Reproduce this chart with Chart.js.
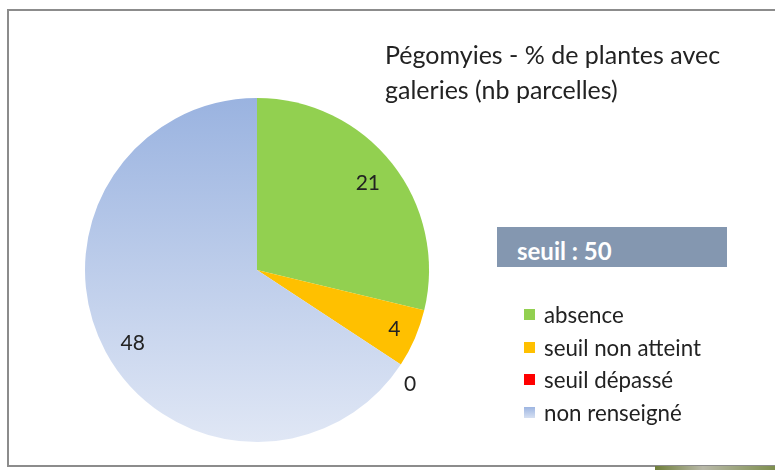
<!DOCTYPE html>
<html>
<head>
<meta charset="utf-8">
<script src="https://cdn.jsdelivr.net/npm/chart.js@4/dist/chart.umd.min.js"></script>
<style>
  html, body { margin: 0; padding: 0; background: #fff; }
  body { width: 775px; height: 470px; position: relative; overflow: hidden; font-family: Lato, "Open Sans", sans-serif; }
  #frame { position: absolute; left: 7px; top: 9px; width: 800px; height: 454px; border: 2px solid #8c8c8c; border-right: none; box-sizing: content-box; }
  #c { position: absolute; left: 0; top: 0; }
  #title { position: absolute; left: 385px; top: 37px; font-size: 25px; line-height: 35px; color: #222; white-space: nowrap; }
  #seuil { position: absolute; left: 497px; top: 227px; width: 230px; height: 40px; background: #8497B0; color: #fff; font-weight: bold; font-size: 24px; box-sizing: border-box; padding-left: 20px; padding-top: 9px; line-height: 30px; }
  #legend { position: absolute; left: 524px; top: 298px; }
  .li { height: 32.7px; display: flex; align-items: center; font-size: 22.3px; color: #222; white-space: nowrap; }
  .sw { width: 11px; height: 11px; margin-right: 9px; }
  #photo { position: absolute; left: 655px; top: 466px; width: 120px; height: 4px; background: linear-gradient(90deg, #6f7f3a, #b8b8a8 40%, #7e8f4e); }
</style>
</head>
<body>
<div id="frame"></div>
<canvas id="c" width="775" height="470"></canvas>
<div id="title">Pégomyies - % de plantes avec<br>galeries (nb parcelles)</div>
<div id="seuil"></div>
<div id="legend"></div>
<div id="photo"></div>
<script>
const categories = ["absence", "seuil non atteint", "seuil dépassé", "non renseigné"];
const values = [21, 4, 0, 48];
const thresholdLabel = "seuil : 50";
const titleText = "Pégomyies - % de plantes avec galeries (nb parcelles)";

const solidColors = ["#92D050", "#FFC000", "#FF0000", null];

document.getElementById('seuil').textContent = thresholdLabel;

const legend = document.getElementById('legend');
categories.forEach((cat, i) => {
  const row = document.createElement('div');
  row.className = 'li';
  const sw = document.createElement('span');
  sw.className = 'sw';
  sw.style.background = solidColors[i] || 'linear-gradient(180deg, #9DB5E1, #D6E0F2)';
  const tx = document.createElement('span');
  tx.textContent = cat;
  row.appendChild(sw); row.appendChild(tx);
  legend.appendChild(row);
});

const labelRadius = [0.82, 0.87, 1.11, 0.84];
const labelShift = [0, 0, 0.06, -0.04];
const labelPlugin = {
  id: 'sliceLabels',
  afterDatasetsDraw(chart) {
    const ctx = chart.ctx;
    const meta = chart.getDatasetMeta(0);
    ctx.save();
    ctx.font = '21px Lato, "Open Sans", sans-serif';
    ctx.fillStyle = '#222';
    ctx.textAlign = 'center';
    ctx.textBaseline = 'middle';
    meta.data.forEach((arc, i) => {
      const p = arc.getProps(['x', 'y', 'startAngle', 'endAngle', 'outerRadius'], true);
      const mid = (p.startAngle + p.endAngle) / 2 + labelShift[i];
      const r = p.outerRadius * labelRadius[i];
      ctx.fillText(String(values[i]), p.x + r * Math.cos(mid), p.y + r * Math.sin(mid));
    });
    ctx.restore();
  }
};

new Chart(document.getElementById('c'), {
  type: 'pie',
  data: {
    labels: categories,
    datasets: [{
      data: values,
      borderWidth: 0,
      backgroundColor: (c) => {
        const i = c.dataIndex;
        if (solidColors[i]) return solidColors[i];
        const area = c.chart.chartArea;
        if (!area) return '#BCCBEA';
        const g = c.chart.ctx.createLinearGradient(0, area.top, 0, area.bottom);
        g.addColorStop(0, '#9AB3E0');
        g.addColorStop(1, '#E0E7F5');
        return g;
      }
    }]
  },
  options: {
    responsive: false,
    animation: false,
    layout: { padding: { left: 85, top: 98, right: 346, bottom: 28 } },
    plugins: { legend: { display: false }, tooltip: { enabled: false }, title: { display: false } }
  },
  plugins: [labelPlugin]
});
</script>
</body>
</html>
